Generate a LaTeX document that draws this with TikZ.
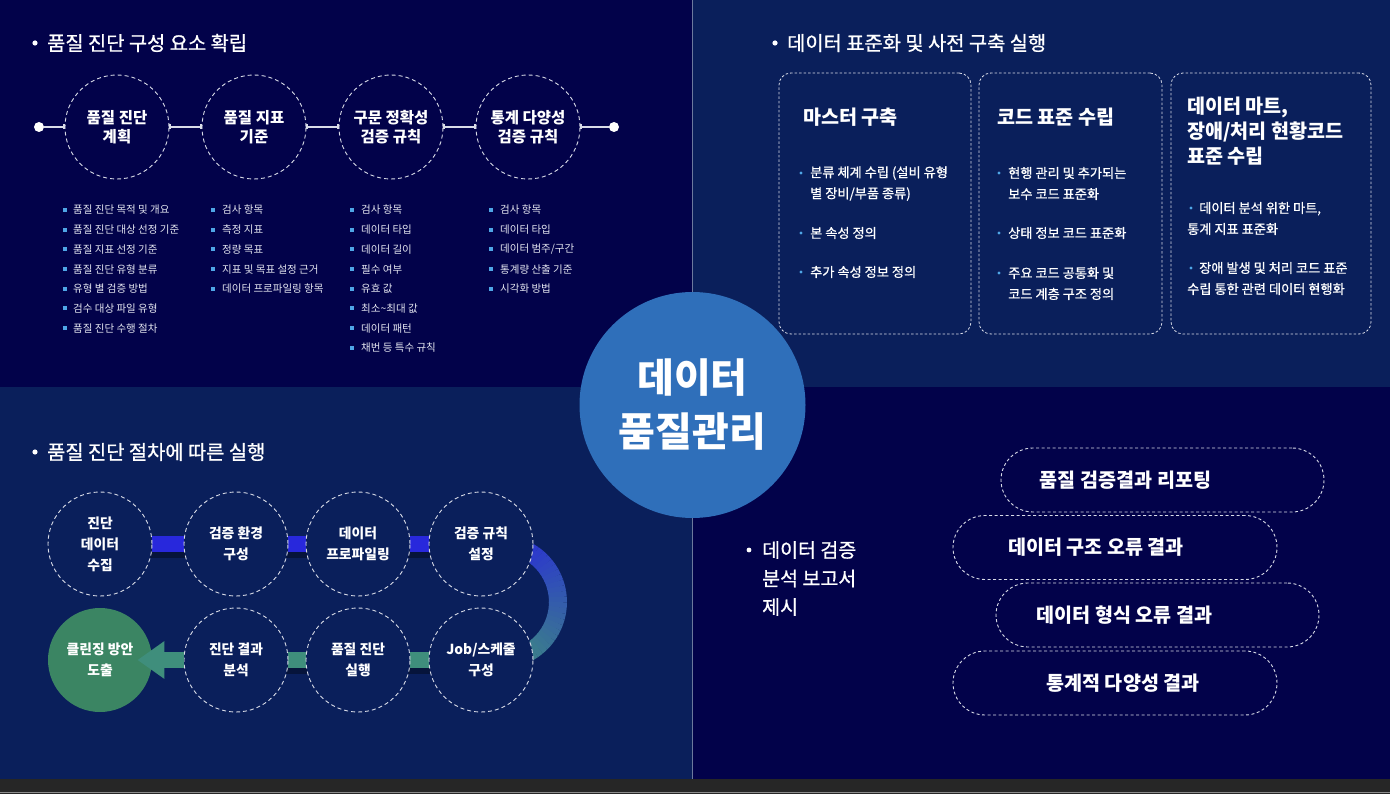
\documentclass[tikz,border=0pt]{standalone}
\usepackage{fontspec}
\setmainfont{Noto Sans CJK KR}
\newfontfamily\medfont{Noto Sans CJK KR}[FakeBold=0.8]
\usetikzlibrary{arrows.meta,calc}

\definecolor{navy}{HTML}{02024A}
\definecolor{deepblue}{HTML}{0A1F5B}
\definecolor{mainblue}{HTML}{2F6FBA}
\definecolor{dotblue}{HTML}{4FA6E6}
\definecolor{barblue}{HTML}{2828DC}
\definecolor{barteal}{HTML}{3F8E7C}
\definecolor{cleangreen}{HTML}{3B8563}
\definecolor{dashgray}{HTML}{D9DCE8}
\definecolor{softwhite}{HTML}{E4E6F0}

\newcommand\fsz[2]{\fontsize{#1}{#2}\selectfont}

\pgfdeclarelayer{panel}
\pgfdeclarelayer{link}
\pgfsetlayers{panel,link,main}

\tikzset{
  hdr/.style={anchor=west, inner sep=0pt, text=white, font=\medfont\fsz{19.8}{24}},
  dcirc/.style={circle, draw=dashgray, dash pattern=on 4pt off 3pt, line width=0.9pt,
    minimum size=104pt, inner sep=0pt, align=center, text=white, font=\bfseries\fsz{15.5}{19}},
  pcirc/.style={dcirc, fill=deepblue, font=\bfseries\fsz{13.8}{21}},
  tline/.style={draw=dashgray, line width=1.3pt},
  dot/.style={circle, fill=white, minimum size=10pt, inner sep=0pt},
  lst/.style={anchor=west, inner sep=0pt, text=softwhite, font=\fsz{10.5}{12}},
  dbox/.style={draw=dashgray, dash pattern=on 2.5pt off 2pt, line width=0.8pt, rounded corners=12pt},
  btitle/.style={anchor=west, inner sep=0pt, align=left, text=white, font=\bfseries\fsz{19.6}{25}},
  bitem/.style={anchor=west, inner sep=0pt, align=left, text=white, font=\medfont\fsz{13.2}{21}},
  bar/.style={line width=16pt},
  pill/.style={draw=dashgray, dash pattern=on 3pt off 2.5pt, line width=0.9pt,
    rounded corners=32pt, minimum height=64pt},
  ptext/.style={text=white, inner sep=0pt, font=\bfseries\fsz{19.6}{22}}
}

\begin{document}
\begin{tikzpicture}[x=1pt,y=-1pt]
\useasboundingbox (0,0) rectangle (1390,794);

% four panels
\begin{pgfonlayer}{panel}
\fill[navy] (0,0) rectangle (692.5,387);
\fill[deepblue] (692.5,0) rectangle (1390,387);
\fill[deepblue] (0,387) rectangle (692.5,779);
\fill[navy] (692.5,387) rectangle (1390,779);
\draw[color=deepblue!60!white, line width=0.8pt] (692.5,0) -- (692.5,779);
\fill[black!85] (0,779) rectangle (1390,794);
\draw[color=black!45, line width=1.2pt] (0,792.5) -- (1390,792.5);
\end{pgfonlayer}

% top left
\fill[white] (35,43) circle (2.6);
\node[hdr] at (47,43) {품질 진단 구성 요소 확립};

\node[dot] (start) at (39,127) {};
\node[dcirc] (plan) at (117,127) {품질 진단\\계획};
\node[dcirc] (index) at (254,127) {품질 지표\\기준};
\node[dcirc] (syntax) at (391,127) {구문 정확성\\검증 규칙};
\node[dcirc] (stat) at (528,127) {통계 다양성\\검증 규칙};
\node[dot] (end) at (614,127) {};
\draw[tline, -{Bar[width=5pt]}] (start) -- (plan);
\draw[tline, {Bar[width=5pt]}-{Bar[width=5pt]}] (plan) -- (index);
\draw[tline, {Bar[width=5pt]}-{Bar[width=5pt]}] (index) -- (syntax);
\draw[tline, {Bar[width=5pt]}-{Bar[width=5pt]}] (syntax) -- (stat);
\draw[tline, {Bar[width=5pt]}-] (stat) -- (end);

\foreach \t [count=\i] in {품질 진단 목적 및 개요, 품질 진단 대상 선정 기준, 품질 지표 선정 기준,
  품질 진단 유형 분류, 유형 별 검증 방법, 검수 대상 파일 유형, 품질 진단 수행 절차}
{
\fill[dotblue] (63,{188.3+19.7*\i}) rectangle ++(4,4);
\node[lst] at (73,{190.3+19.7*\i}) {\t};
}
\foreach \t [count=\i] in {검사 항목, 측정 지표, 정량 목표, 지표 및 목표 설정 근거, 데이터 프로파일링 항목}
{
\fill[dotblue] (211,{188.3+19.7*\i}) rectangle ++(4,4);
\node[lst] at (222,{190.3+19.7*\i}) {\t};
}
\foreach \t [count=\i] in {검사 항목, 데이터 타입, 데이터 길이, 필수 여부, 유효 값,
  최소\textasciitilde 최대 값, 데이터 패턴, 채번 등 특수 규칙}
{
\fill[dotblue] (350,{188.3+19.7*\i}) rectangle ++(4,4);
\node[lst] at (361,{190.3+19.7*\i}) {\t};
}
\foreach \t [count=\i] in {검사 항목, 데이터 타입, 데이터 범주/구간, 통계량 산출 기준, 시각화 방법}
{
\fill[dotblue] (489,{188.3+19.7*\i}) rectangle ++(4,4);
\node[lst] at (500,{190.3+19.7*\i}) {\t};
}

% top right
\fill[white] (775,43) circle (2.6);
\node[hdr] at (787,43) {데이터 표준화 및 사전 구축 실행};

\node[dbox, minimum width=192pt, minimum height=261pt] (master) at (875,203.5) {};
\node[dbox, minimum width=183pt, minimum height=261pt] (code) at (1070.5,203.5) {};
\node[dbox, minimum width=200pt, minimum height=261pt] (mart) at (1271,203.5) {};

\node[btitle] at (803,117) {마스터 구축};
\node[btitle] at (997,117) {코드 표준 수립};
\node[btitle] at (1187,131) {데이터 마트,\\장애/처리 현황코드\\표준 수립};

\foreach \y in {173,233,272} \fill[dotblue] (801,\y) circle (1.7);
\node[bitem] at (810,183.5) {분류 체계 수립 (설비 유형\\별 장비/부품 종류)};
\node[bitem] at (810,233) {본 속성 정의};
\node[bitem] at (810,272) {추가 속성 정보 정의};

\foreach \y in {173,233,273} \fill[dotblue] (999,\y) circle (1.7);
\node[bitem] at (1008,183.5) {현행 관리 및 추가되는\\보수 코드 표준화};
\node[bitem] at (1008,233) {상태 정보 코드 표준화};
\node[bitem] at (1008,283.5) {주요 코드 공통화 및\\코드 계층 구조 정의};

\foreach \y in {208,268} \fill[dotblue] (1191,\y) circle (1.7);
\node[bitem] at (1187,218.5) {\hspace{12pt}데이터 분석 위한 마트,\\통계 지표 표준화};
\node[bitem] at (1187,278.5) {\hspace{12pt}장애 발생 및 처리 코드 표준\\수립 통한 관련 데이터 현행화};

% bottom left
\fill[white] (35,452) circle (2.6);
\node[hdr] at (47,452) {품질 진단 절차에 따른 실행};

\node[pcirc] (collect) at (100,544) {진단\\데이터\\수집};
\node[pcirc] (env) at (236,544) {검증 환경\\구성};
\node[pcirc] (profile) at (358,544) {데이터\\프로파일링};
\node[pcirc] (rule) at (481,544) {검증 규칙\\설정};
\node[pcirc] (job) at (481,660) {Job/스케줄\\구성};
\node[pcirc] (run) at (358,660) {품질 진단\\실행};
\node[pcirc] (result) at (236,660) {진단 결과\\분석};
\node[pcirc, draw=none, fill=cleangreen] (clean) at (100,660) {};
\coordinate (arcc) at ($(rule)!.5!(job)+(19,0)$);

\begin{pgfonlayer}{link}
\foreach \a/\b in {collect/env, env/profile, profile/rule, job/run, run/result}
  \draw[bar, black, opacity=.35] ([yshift=-6pt]\a.center) -- ([yshift=-6pt]\b.center);
\draw[bar, barblue] (collect) -- (env);
\draw[bar, barblue] (env) -- (profile);
\draw[bar, barblue] (profile) -- (rule);
\draw[bar, barteal] (job) -- (run);
\draw[bar, barteal] (run) -- (result);
\foreach \i in {0,...,35}
{
\pgfmathsetmacro\p{100-100*\i/35}
\pgfmathsetmacro\a{-90+5*\i}
\draw[line width=18pt, barblue!\p!barteal] ($(arcc)+(\a:58)$) arc[start angle=\a, end angle=\a+5.6, radius=58];
}
\end{pgfonlayer}

\draw[line width=16pt, barteal, -{Triangle[width=36pt,length=27pt]}] (result.west) -- ([xshift=-15pt]clean.east);
\node[pcirc, draw=none, fill=none] at (clean) {클린징 방안\\도출};

% bottom right
\fill[white] (749,550) circle (2.4);
\node[anchor=west, inner sep=0pt, align=left, text=white, font=\medfont\fsz{19.5}{28.5}] (report) at (762,578.5) {데이터 검증\\분석 보고서\\제시};

\node[pill, minimum width=323pt] (p1) at (1162.5,480) {};
\node[pill, minimum width=324pt] (p2) at (1115,547.5) {};
\node[pill, minimum width=323pt] (p3) at (1157.5,615) {};
\node[pill, minimum width=324pt] (p4) at (1115,683) {};
\node[ptext] at ([xshift=-37pt]p1.center) {품질 검증결과 리포팅};
\node[ptext] at ([xshift=-19pt]p2.center) {데이터 구조 오류 결과};
\node[ptext] at ([xshift=-33pt]p3.center) {데이터 형식 오류 결과};
\node[ptext] at ([xshift=8pt]p4.center) {통계적 다양성 결과};

% centre
\node[circle, fill=mainblue, minimum size=226pt, inner sep=0pt, align=center, text=white,
  font=\bfseries\fsz{40}{54}] (core) at (692.5,405) {데이터\\품질관리};

\end{tikzpicture}
\end{document}
